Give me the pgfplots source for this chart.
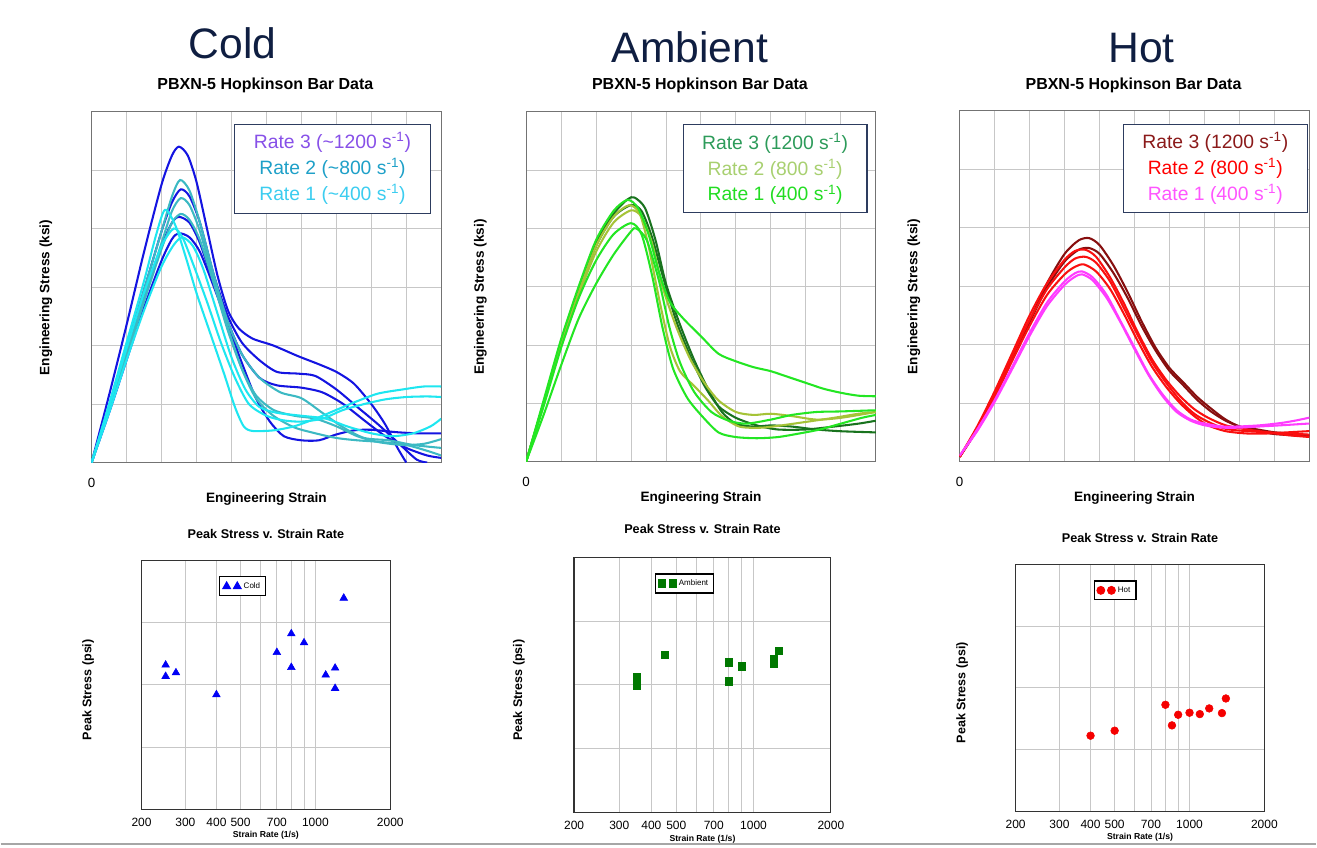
\documentclass[border=0pt]{standalone}
\usepackage{pgfplots}
\pgfplotsset{compat=1.18}
\usepackage{fontspec}
\setmainfont{Liberation Sans}

\definecolor{cB}{RGB}{20,20,225}
\definecolor{cT}{RGB}{60,185,195}
\definecolor{cC}{RGB}{30,230,240}
\definecolor{aD}{RGB}{25,115,30}
\definecolor{aY}{RGB}{165,195,55}
\definecolor{aG}{RGB}{35,230,35}
\definecolor{hD}{RGB}{135,15,15}
\definecolor{hR}{RGB}{250,15,15}
\definecolor{hM}{RGB}{255,60,255}
\definecolor{lC3}{RGB}{135,80,232}
\definecolor{lC2}{RGB}{30,160,200}
\definecolor{lC1}{RGB}{60,205,240}
\definecolor{lA3}{RGB}{45,155,90}
\definecolor{lA2}{RGB}{168,208,112}
\definecolor{lA1}{RGB}{34,221,34}
\definecolor{lH3}{RGB}{139,26,26}
\definecolor{lH2}{RGB}{255,0,0}
\definecolor{lH1}{RGB}{255,85,255}
\definecolor{navy}{RGB}{15,30,65}
\definecolor{boxc}{RGB}{45,60,95}
\definecolor{mB}{RGB}{0,0,245}
\definecolor{mG}{RGB}{0,120,0}
\definecolor{mR}{RGB}{245,0,0}

\pgfplotsset{
 topax/.style={
  scale only axis, width=262.5pt, height=263.5pt,
  xmin=0, xmax=10, ymin=0, ymax=6,
  xtick={0,1,...,10}, ytick={0,1,...,6},
  xticklabels={0,,,,,,,,,,}, yticklabels={},
  grid=major,
  major grid style={draw=black!22, line width=0.7pt},
  major tick length=0pt,
  axis line style={draw=black!55, line width=0.8pt},
  xticklabel style={font=\fontsize{10}{11}\selectfont, yshift=-8pt},
  xlabel={Engineering Strain},
  ylabel={Engineering Stress (ksi)},
  label style={font=\bfseries\fontsize{10.2}{11}\selectfont},
  xlabel style={at={(axis description cs:0.5,-0.103)}, anchor=center},
  ylabel style={at={(axis description cs:-0.131,0.47)}, anchor=center},
  every axis plot/.append style={line width=1.55pt, smooth, tension=0.45},
 },
 botax/.style={
  scale only axis, xmin=200, xmax=2000, ymin=0, ymax=4,
  xtick={200,300,400,500,600,700,800,900,1000,2000},
  xticklabels={200,300,400,500,,700,,,1000,2000},
  ytick={0,1,2,3,4}, yticklabels={},
  grid=major, major grid style={draw=black!22, line width=0.7pt},
  major tick length=0pt,
  axis line style={draw=black!80, line width=0.9pt},
  xticklabel style={font=\fontsize{9}{10}\selectfont, yshift=-3pt},
  title={Peak Stress v. Strain Rate},
  title style={font=\bfseries\fontsize{9.5}{10}\selectfont, anchor=center},
  xlabel={Strain Rate (1/s)},
  ylabel={Peak Stress (psi)},
  xlabel style={font=\bfseries\fontsize{6.5}{7}\selectfont, at={(axis description cs:0.5,-0.106)}, anchor=center},
  ylabel style={font=\bfseries\fontsize{9.4}{10}\selectfont, at={(axis description cs:-0.215,0.48)}, anchor=center},
  legend style={draw=black, line width=0.8pt, font=\fontsize{6}{7}\selectfont, inner sep=2.2pt, anchor=north west, legend cell align=left},
  legend image code/.code={\draw[##1,only marks] plot coordinates {(0cm,0cm) (0.28cm,0cm)};},
 },
}

\begin{document}
\begin{tikzpicture}
\begin{scope}[x=0.75pt,y=-0.75pt]
\path (0,0) rectangle (1317,847);
\coordinate (P1) at (91,463);
\coordinate (P2) at (526,462);
\coordinate (P3) at (960,462);
\coordinate (Q1) at (141,810);
\coordinate (Q2) at (574,813);
\coordinate (Q3) at (1016,812);
\node[anchor=base, font=\fontsize{32}{36}\selectfont, text=navy] at (232,59) {Cold};
\node[anchor=base, font=\fontsize{32}{36}\selectfont, text=navy] at (690,63) {Ambient};
\node[anchor=base, font=\fontsize{32}{36}\selectfont, text=navy] at (1142,63) {Hot};
\node[anchor=base, font=\bfseries\fontsize{12}{14}\selectfont] at (265,90) {PBXN-5 Hopkinson Bar Data};
\node[anchor=base, font=\bfseries\fontsize{12}{14}\selectfont] at (700,90) {PBXN-5 Hopkinson Bar Data};
\node[anchor=base, font=\bfseries\fontsize{12}{14}\selectfont] at (1134,90) {PBXN-5 Hopkinson Bar Data};
\draw[black!35, line width=1pt] (0,845) -- (1317,845);
\end{scope}

% ---------------- Cold ----------------
\begin{axis}[topax, at={(P1)}, anchor=south west]
\addplot[cB] coordinates {(0,0) (0.5,1.15) (1,2.35) (1.5,3.6) (2,4.75) (2.3,5.25) (2.5,5.4) (2.75,5.25) (3.0,4.8) (3.3,4.0) (3.6,3.2) (3.9,2.6) (4.2,2.3) (4.6,2.12) (5.2,2.0) (5.9,1.82) (6.5,1.68) (7.0,1.55) (7.5,1.35) (8.0,1.0) (8.4,0.65) (8.75,0.25) (9.0,0.0)};
\addplot[cB] coordinates {(0,0) (0.5,0.95) (1,1.95) (1.5,2.95) (2,3.95) (2.3,4.45) (2.55,4.67) (2.8,4.55) (3.1,4.1) (3.5,3.2) (3.9,2.5) (4.3,2.05) (4.8,1.75) (5.3,1.55) (5.9,1.52) (6.4,1.48) (7.0,1.25) (7.6,0.95) (8.2,0.65) (8.8,0.32) (9.3,0.05) (9.6,0.0)};
\addplot[cB] coordinates {(0,0) (0.5,0.9) (1,1.85) (1.5,2.8) (2,3.7) (2.3,4.1) (2.5,4.2) (2.8,4.1) (3.1,3.75) (3.5,3.05) (3.9,2.4) (4.3,1.85) (4.8,1.45) (5.3,1.32) (6.0,1.28) (6.6,1.2) (7.2,1.0) (7.8,0.72) (8.4,0.45) (9.0,0.25) (9.6,0.12) (10,0.08)};
\addplot[cB] coordinates {(0,0) (0.5,0.85) (1,1.75) (1.5,2.65) (2,3.45) (2.3,3.82) (2.5,3.92) (2.8,3.85) (3.1,3.6) (3.5,3.0) (3.9,2.35) (4.3,1.7) (4.7,1.1) (5.1,0.7) (5.5,0.45) (6.0,0.38) (6.5,0.38) (7.0,0.48) (7.5,0.55) (8.0,0.56) (8.7,0.52) (9.3,0.5) (10,0.5)};
\addplot[cT] coordinates {(0,0) (0.5,0.95) (1,1.95) (1.5,2.95) (2,3.95) (2.3,4.55) (2.53,4.83) (2.8,4.65) (3.1,4.1) (3.5,3.2) (3.9,2.4) (4.3,1.85) (4.8,1.45) (5.4,1.2) (6.0,1.1) (6.6,0.85) (7.2,0.6) (7.8,0.42) (8.5,0.38) (9.2,0.3) (10,0.25)};
\addplot[cT] coordinates {(0,0) (0.5,0.9) (1,1.85) (1.5,2.8) (2,3.75) (2.3,4.3) (2.55,4.52) (2.8,4.4) (3.1,3.95) (3.5,3.1) (3.9,2.3) (4.3,1.6) (4.7,1.1) (5.2,0.8) (5.8,0.6) (6.4,0.5) (7.0,0.42) (7.6,0.38) (8.3,0.35) (9.0,0.3) (9.6,0.2) (10,0.12)};
\addplot[cT] coordinates {(0,0) (0.5,0.9) (1,1.8) (1.5,2.75) (2,3.65) (2.3,4.1) (2.55,4.25) (2.8,4.15) (3.1,3.8) (3.5,3.05) (3.9,2.25) (4.3,1.6) (4.7,1.15) (5.2,0.9) (5.8,0.8) (6.4,0.75) (7.0,0.62) (7.6,0.45) (8.2,0.35) (8.9,0.3) (9.5,0.32) (10,0.4)};
\addplot[cC] coordinates {(0,0) (0.5,1.0) (1,2.05) (1.5,3.1) (1.85,3.9) (2.1,4.32) (2.4,4.05) (2.7,3.5) (3.0,2.9) (3.4,2.2) (3.8,1.5) (4.1,0.95) (4.35,0.62) (4.6,0.54) (5.2,0.55) (5.8,0.62) (6.4,0.75) (7.0,0.9) (7.6,1.05) (8.2,1.18) (8.9,1.25) (9.5,1.3) (10,1.3)};
\addplot[cC] coordinates {(0,0) (0.5,0.95) (1,1.95) (1.5,2.9) (2,3.7) (2.35,4.0) (2.6,3.85) (2.9,3.4) (3.3,2.75) (3.7,2.05) (4.1,1.45) (4.5,1.0) (5.0,0.8) (5.5,0.72) (6.0,0.7) (6.6,0.75) (7.2,0.9) (7.8,1.0) (8.4,1.08) (9.0,1.12) (9.6,1.13) (10,1.12)};
\addplot[cC] coordinates {(0,0) (0.5,0.85) (1,1.75) (1.5,2.6) (2,3.35) (2.35,3.72) (2.6,3.85) (2.9,3.7) (3.2,3.3) (3.6,2.55) (4.0,1.8) (4.4,1.25) (4.8,0.95) (5.3,0.85) (6.0,0.8) (6.7,0.75) (7.3,0.62) (8.0,0.5) (8.6,0.45) (9.2,0.5) (9.7,0.62) (10,0.75)};
\node[draw=boxc, line width=0.8pt, fill=white, inner sep=0pt, minimum width=147pt, minimum height=66.75pt, align=center, font=\fontsize{14.5}{19.5}\selectfont] at (rel axis cs:0.689,0.837)
 {\textcolor{lC3}{Rate 3 (\textasciitilde 1200 s\textsuperscript{-1})}\\ \textcolor{lC2}{Rate 2 (\textasciitilde 800 s\textsuperscript{-1})}\\ \textcolor{lC1}{Rate 1 (\textasciitilde 400 s\textsuperscript{-1})}};
\end{axis}

% ---------------- Ambient ----------------
\begin{axis}[topax, at={(P2)}, anchor=south west, height=262.5pt]
\addplot[aD] coordinates {(0,0) (0.5,1.0) (1,2.05) (1.5,2.95) (2,3.75) (2.5,4.25) (2.9,4.5) (3.1,4.53) (3.4,4.35) (3.7,3.8) (4.0,3.05) (4.4,2.35) (4.8,1.75) (5.2,1.25) (5.6,0.85) (6.0,0.65) (6.5,0.6) (7.0,0.62) (7.6,0.6) (8.3,0.55) (9.0,0.52) (10,0.5)};
\addplot[aD] coordinates {(0,0) (0.5,1.0) (1,2.0) (1.5,2.9) (2,3.7) (2.5,4.2) (3.0,4.4) (3.3,4.3) (3.6,3.85) (3.9,3.2) (4.3,2.4) (4.7,1.8) (5.1,1.3) (5.5,0.95) (6.0,0.75) (6.6,0.62) (7.2,0.55) (8.0,0.55) (8.8,0.6) (9.5,0.65) (10,0.7)};
\addplot[aY] coordinates {(0,0) (0.5,1.0) (1,2.0) (1.5,2.85) (2,3.6) (2.5,4.1) (3.0,4.31) (3.3,4.2) (3.6,3.75) (3.9,3.0) (4.3,2.3) (4.7,1.75) (5.1,1.35) (5.5,1.05) (6.0,0.85) (6.5,0.8) (7.0,0.82) (7.6,0.78) (8.3,0.72) (9.0,0.75) (10,0.85)};
\addplot[aY] coordinates {(0,0) (0.5,1.0) (1,2.0) (1.5,2.9) (2,3.7) (2.5,4.2) (2.95,4.4) (3.25,4.25) (3.5,3.7) (3.8,2.8) (4.1,2.0) (4.4,1.55) (4.8,1.3) (5.2,1.05) (5.6,0.78) (6.1,0.6) (6.7,0.58) (7.3,0.62) (8.0,0.68) (8.8,0.75) (9.5,0.82) (10,0.85)};
\addplot[aG] coordinates {(0,0) (0.5,1.05) (1,2.1) (1.5,3.0) (2,3.8) (2.5,4.3) (2.9,4.49) (3.2,4.35) (3.5,3.9) (3.8,3.25) (4.1,2.75) (4.5,2.45) (5.0,2.15) (5.5,1.85) (6.0,1.72) (6.5,1.62) (7.0,1.55) (7.5,1.45) (8.0,1.35) (8.5,1.25) (9.0,1.18) (9.5,1.13) (10,1.12)};
\addplot[aG] coordinates {(0,0) (0.5,0.95) (1,1.95) (1.5,2.8) (2,3.45) (2.5,3.9) (3.0,4.09) (3.3,3.9) (3.6,3.2) (3.9,2.3) (4.2,1.6) (4.6,1.1) (5.0,0.8) (5.5,0.5) (6.0,0.42) (6.6,0.4) (7.2,0.42) (7.8,0.48) (8.4,0.55) (9.0,0.65) (9.6,0.75) (10,0.8)};
\addplot[aG] coordinates {(0,0) (0.5,0.8) (1,1.65) (1.5,2.45) (2,3.05) (2.5,3.55) (3.0,3.95) (3.15,4.0) (3.45,3.8) (3.8,3.1) (4.1,2.3) (4.4,1.7) (4.8,1.2) (5.3,0.85) (5.8,0.7) (6.3,0.65) (7.0,0.72) (7.6,0.8) (8.3,0.85) (9.0,0.86) (10,0.88)};
\node[draw=boxc, line width=0.8pt, fill=white, inner sep=0pt, minimum width=138pt, minimum height=66pt, align=center, font=\fontsize{14.5}{19.5}\selectfont] at (rel axis cs:0.712,0.837)
 {\textcolor{lA3}{Rate 3 (1200 s\textsuperscript{-1})}\\ \textcolor{lA2}{Rate 2 (800 s\textsuperscript{-1})}\\ \textcolor{lA1}{Rate 1 (400 s\textsuperscript{-1})}};
\end{axis}

% ---------------- Hot ----------------
\begin{axis}[topax, at={(P3)}, anchor=south west]
\addplot[hD] coordinates {(0,0.08) (0.5,0.55) (1,1.1) (1.5,1.75) (2,2.4) (2.5,3.05) (3.0,3.55) (3.4,3.78) (3.7,3.82) (4.0,3.7) (4.4,3.35) (4.8,2.9) (5.2,2.4) (5.6,1.95) (6.0,1.6) (6.4,1.35) (6.8,1.1) (7.2,0.9) (7.6,0.72) (8.0,0.6) (8.5,0.52) (9.0,0.47) (9.5,0.45) (10,0.43)};
\addplot[hD] coordinates {(0,0.08) (0.5,0.55) (1,1.12) (1.5,1.75) (2,2.38) (2.5,2.98) (3.0,3.42) (3.4,3.62) (3.7,3.65) (4.0,3.55) (4.4,3.22) (4.8,2.8) (5.2,2.32) (5.6,1.9) (6.0,1.55) (6.4,1.3) (6.8,1.05) (7.2,0.85) (7.6,0.7) (8.0,0.6) (8.5,0.55) (9.0,0.5) (9.5,0.48) (10,0.45)};
\addplot[hR] coordinates {(0,0.08) (0.5,0.6) (1,1.2) (1.5,1.85) (2,2.5) (2.5,3.05) (3.0,3.45) (3.3,3.6) (3.6,3.62) (3.9,3.5) (4.3,3.15) (4.7,2.7) (5.1,2.2) (5.5,1.75) (5.9,1.4) (6.3,1.12) (6.7,0.9) (7.1,0.75) (7.6,0.62) (8.2,0.55) (8.8,0.5) (9.4,0.45) (10,0.42)};
\addplot[hR] coordinates {(0,0.08) (0.5,0.58) (1,1.15) (1.5,1.8) (2,2.42) (2.5,2.95) (3.0,3.32) (3.3,3.47) (3.6,3.5) (3.9,3.4) (4.3,3.08) (4.7,2.62) (5.1,2.15) (5.5,1.7) (5.9,1.35) (6.3,1.05) (6.7,0.82) (7.1,0.68) (7.6,0.56) (8.2,0.52) (8.8,0.5) (9.4,0.48) (10,0.46)};
\addplot[hR] coordinates {(0,0.08) (0.5,0.55) (1,1.1) (1.5,1.72) (2,2.32) (2.5,2.85) (3.0,3.2) (3.3,3.33) (3.55,3.37) (3.9,3.25) (4.3,2.95) (4.7,2.52) (5.1,2.05) (5.5,1.62) (5.9,1.28) (6.3,1.0) (6.7,0.78) (7.1,0.62) (7.6,0.52) (8.2,0.48) (8.8,0.48) (9.4,0.5) (10,0.52)};
\addplot[hM] coordinates {(0,0.1) (0.5,0.55) (1,1.05) (1.5,1.62) (2,2.2) (2.5,2.72) (3.0,3.08) (3.3,3.22) (3.5,3.25) (3.8,3.15) (4.2,2.85) (4.6,2.4) (5.0,1.95) (5.4,1.5) (5.8,1.15) (6.2,0.88) (6.6,0.72) (7.0,0.65) (7.5,0.6) (8.0,0.6) (8.6,0.62) (9.2,0.66) (9.6,0.7) (10,0.75)};
\addplot[hM] coordinates {(0,0.1) (0.5,0.52) (1,1.02) (1.5,1.58) (2,2.15) (2.5,2.66) (3.0,3.02) (3.3,3.16) (3.5,3.2) (3.8,3.1) (4.2,2.8) (4.6,2.38) (5.0,1.92) (5.4,1.48) (5.8,1.12) (6.2,0.85) (6.6,0.7) (7.0,0.62) (7.5,0.58) (8.0,0.58) (8.6,0.6) (9.2,0.62) (10,0.65)};
\node[draw=boxc, line width=0.8pt, fill=white, inner sep=0pt, minimum width=138pt, minimum height=66pt, align=center, font=\fontsize{14.5}{19.5}\selectfont] at (rel axis cs:0.731,0.835)
 {\textcolor{lH3}{Rate 3 (1200 s\textsuperscript{-1})}\\ \textcolor{lH2}{Rate 2 (800 s\textsuperscript{-1})}\\ \textcolor{lH1}{Rate 1 (400 s\textsuperscript{-1})}};
\end{axis}

% ---------------- Bottom: Cold ----------------
\begin{semilogxaxis}[botax, at={(Q1)}, anchor=south west, width=186.75pt, height=186.75pt,
  title style={at={(axis description cs:0.5,1.076)}},
  legend style={at={(axis description cs:0.313,0.936)}}]
\addplot[only marks, mark=triangle*, mark size=3.3pt, color=mB] coordinates {
(250,2.319) (250,2.137) (275,2.195) (400,1.842) (700,2.522) (800,2.822) (800,2.281) (900,2.677) (1100,2.158) (1200,2.270) (1200,1.944) (1300,3.395)};
\addlegendentry{Cold}
\end{semilogxaxis}

% ---------------- Bottom: Ambient ----------------
\begin{semilogxaxis}[botax, at={(Q2)}, anchor=south west, width=192.75pt, height=191.25pt,
  title style={at={(axis description cs:0.5,1.082)}},
  legend style={at={(axis description cs:0.315,0.937)}}]
\addplot[only marks, mark=square*, mark size=2.7pt, color=mG] coordinates {
(350,2.128) (350,1.992) (450,2.473) (800,2.353) (800,2.055) (900,2.290) (1200,2.405) (1200,2.327) (1200,2.37) (1250,2.536)};
\addlegendentry{Ambient}
\end{semilogxaxis}

% ---------------- Bottom: Hot ----------------
\begin{semilogxaxis}[botax, at={(Q3)}, anchor=south west, width=186.75pt, height=185.25pt,
  title style={at={(axis description cs:0.5,1.073)}},
  legend style={at={(axis description cs:0.313,0.935)}}]
\addplot[only marks, mark=*, mark size=2.9pt, color=mR] coordinates {
(400,1.224) (500,1.305) (800,1.725) (850,1.391) (900,1.563) (1000,1.596) (1100,1.574) (1200,1.666) (1350,1.590) (1400,1.827)};
\addlegendentry{Hot}
\end{semilogxaxis}
\end{tikzpicture}
\end{document}
